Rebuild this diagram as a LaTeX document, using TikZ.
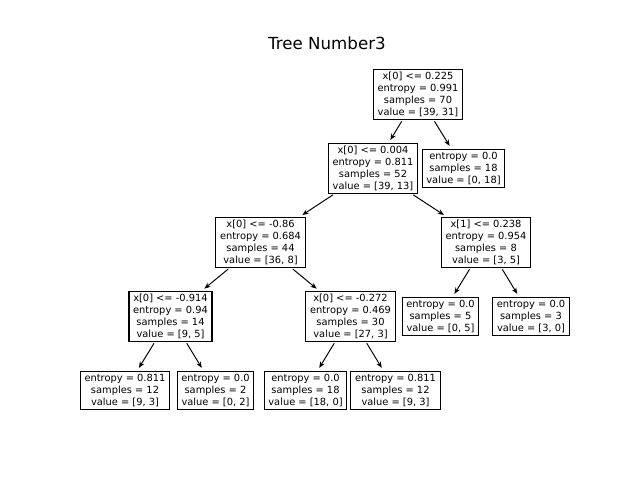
\documentclass[tikz,border=0pt]{standalone}
\usepackage{fontspec}
\setmainfont{DejaVu Sans}
\usetikzlibrary{arrows.meta}

\begin{document}
\begin{tikzpicture}[x=0.72pt,y=-0.72pt,
  split/.style={draw=black,line width=0.8pt,fill=white,align=center,
    font=\fontsize{7.1}{8.45}\selectfont,inner xsep=3pt,inner ysep=2.2pt},
  edge/.style={-{Stealth[length=4.5pt,width=3.6pt]},line width=0.7pt,
    shorten <=1pt,shorten >=2.5pt}]
\useasboundingbox (0,0) rectangle (640,480);

\node[font=\fontsize{12}{14}\selectfont] (title) at (327,43) {Tree Number3};

% level 0
\node[split] (n0) at (418,94.5) {x[0] <= 0.225\\entropy = 0.991\\samples = 70\\value = [39, 31]};

% level 1
\node[split] (n1) at (373,168.5) {x[0] <= 0.004\\entropy = 0.811\\samples = 52\\value = [39, 13]};
\node[split] (n2) at (463.5,168.5) {entropy = 0.0\\samples = 18\\value = [0, 18]};

% level 2
\node[split] (n3) at (260.5,242.5) {x[0] <= -0.86\\entropy = 0.684\\samples = 44\\value = [36, 8]};
\node[split] (n4) at (486,242.5) {x[1] <= 0.238\\entropy = 0.954\\samples = 8\\value = [3, 5]};

% level 3
\node[split] (n5) at (170.5,316.5) {x[0] <= -0.914\\entropy = 0.94\\samples = 14\\value = [9, 5]};
\node[split] (n6) at (350.5,316.5) {x[0] <= -0.272\\entropy = 0.469\\samples = 30\\value = [27, 3]};
\node[split] (n7) at (440.5,316.5) {entropy = 0.0\\samples = 5\\value = [0, 5]};
\node[split] (n8) at (531,316.5) {entropy = 0.0\\samples = 3\\value = [3, 0]};

% level 4
\node[split] (n9) at (125,390.5) {entropy = 0.811\\samples = 12\\value = [9, 3]};
\node[split] (n10) at (215.5,390.5) {entropy = 0.0\\samples = 2\\value = [0, 2]};
\node[split] (n11) at (305.5,390.5) {entropy = 0.0\\samples = 18\\value = [18, 0]};
\node[split] (n12) at (395.5,390.5) {entropy = 0.811\\samples = 12\\value = [9, 3]};

\draw[edge] (n0) -- (n1);
\draw[edge] (n0) -- (n2);
\draw[edge] (n1) -- (n3);
\draw[edge] (n1) -- (n4);
\draw[edge] (n3) -- (n5);
\draw[edge] (n3) -- (n6);
\draw[edge] (n4) -- (n7);
\draw[edge] (n4) -- (n8);
\draw[edge] (n5) -- (n9);
\draw[edge] (n5) -- (n10);
\draw[edge] (n6) -- (n11);
\draw[edge] (n6) -- (n12);
\end{tikzpicture}
\end{document}
